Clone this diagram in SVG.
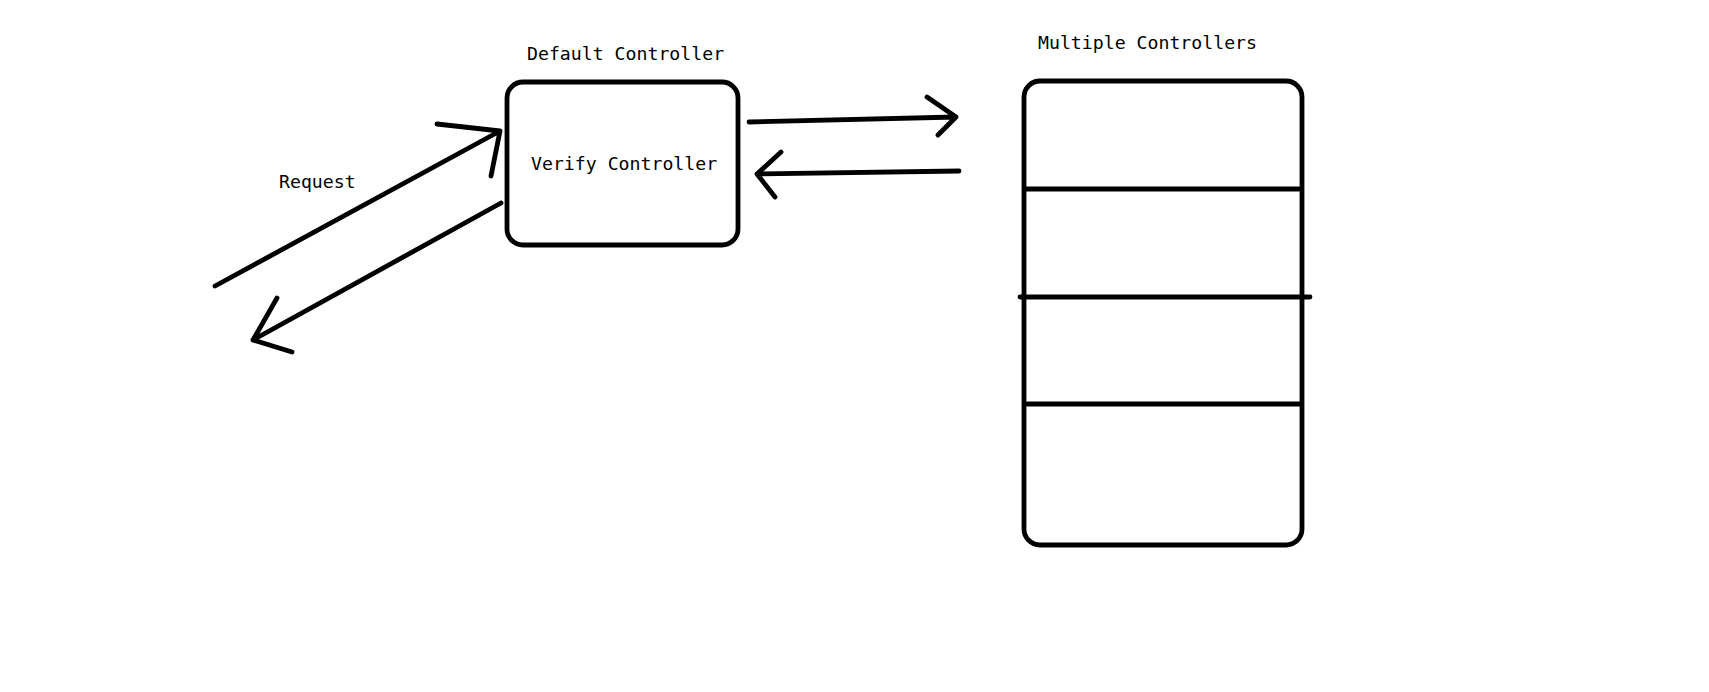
<svg xmlns="http://www.w3.org/2000/svg" width="1709" height="692" viewBox="0 0 1709 692">
<style>
.s{fill:none;stroke:#000;stroke-width:4.8;stroke-linecap:round;stroke-linejoin:round}
.t{font-family:"DejaVu Sans Mono","Liberation Mono",monospace;font-size:18.2px;fill:#000}
</style>
<rect width="1709" height="692" fill="#fff"/>
<g id="default-controller">
<text class="t" x="527" y="60">Default Controller</text>
<rect class="s" x="507" y="82" width="231" height="163" rx="16"/>
<text class="t" x="531" y="170">Verify Controller</text>
</g>
<g id="multiple-controllers">
<text class="t" x="1038" y="49">Multiple Controllers</text>
<rect class="s" x="1024" y="81" width="278" height="464" rx="16"/>
<line class="s" x1="1026" y1="189" x2="1299" y2="189"/>
<line class="s" x1="1020" y1="297" x2="1310" y2="297"/>
<line class="s" x1="1027" y1="404" x2="1301" y2="404"/>
</g>
<g id="request-label">
<text class="t" x="279" y="188">Request</text>
</g>
<g id="connectors">
<path class="s" d="M215,286 L500,131 M437,124 L500,131 L491,176"/>
<path class="s" d="M501,203 L253,340 M277,298 L253,340 L292,352"/>
<path class="s" d="M749,122 L956,117 M927,97 L956,117 L938,135"/>
<path class="s" d="M959,171 L757,174 M781,152 L757,174 L775,197"/>
</g>
</svg>
